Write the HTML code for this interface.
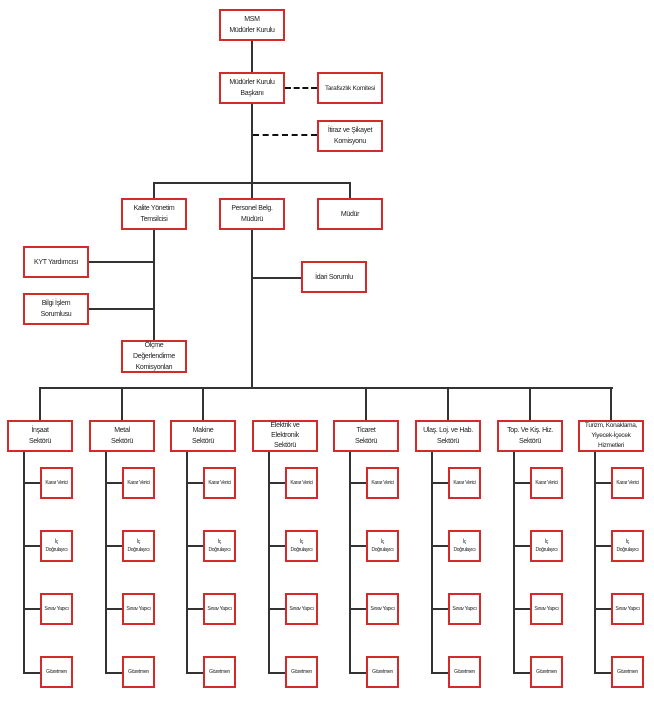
<!DOCTYPE html><html><head><meta charset="utf-8"><style>
body{margin:0;width:654px;height:712px;background:#fff;position:relative;overflow:hidden;font-family:"Liberation Sans",sans-serif;color:#222}
.b{position:absolute;box-sizing:border-box;border:2px solid #d42a2a;background:#fff;display:flex;align-items:center;justify-content:center;text-align:center;font-size:7px;line-height:11px;letter-spacing:-0.3px;white-space:nowrap;overflow:visible}
.s{font-size:5px;line-height:8px;letter-spacing:-0.3px}
.l{position:absolute;background:#333}
.d{position:absolute;height:0;border-top:2px dashed #111}
</style></head><body>
<div class="l" style="left:251px;top:40px;width:2px;height:349px"></div>
<div class="d" style="left:285px;top:87px;width:32px"></div>
<div class="d" style="left:253px;top:134px;width:64px"></div>
<div class="l" style="left:153px;top:182px;width:198px;height:2px"></div>
<div class="l" style="left:153px;top:182px;width:2px;height:158px"></div>
<div class="l" style="left:349px;top:182px;width:2px;height:16px"></div>
<div class="l" style="left:88px;top:261px;width:66px;height:2px"></div>
<div class="l" style="left:88px;top:308px;width:66px;height:2px"></div>
<div class="l" style="left:252px;top:277px;width:49px;height:2px"></div>
<div class="l" style="left:39px;top:387px;width:574px;height:2px"></div>

<div class="b" style="left:219px;top:9px;width:66px;height:32px">MSM<br>Müdürler Kurulu</div>
<div class="b" style="left:219px;top:72px;width:66px;height:32px">Müdürler Kurulu<br>Başkanı</div>
<div class="b" style="left:317px;top:72px;width:66px;height:32px;font-size:6.5px">Tarafsızlık Komitesi</div>
<div class="b" style="left:317px;top:120px;width:66px;height:32px">İtiraz ve Şikayet<br>Komisyonu</div>
<div class="b" style="left:121px;top:198px;width:66px;height:32px">Kalite Yönetim<br>Temsilcisi</div>
<div class="b" style="left:219px;top:198px;width:66px;height:32px">Personel Belg.<br>Müdürü</div>
<div class="b" style="left:317px;top:198px;width:66px;height:32px">Müdür</div>
<div class="b" style="left:23px;top:246px;width:66px;height:32px">KYT Yardımcısı</div>
<div class="b" style="left:23px;top:293px;width:66px;height:32px">Bilgi İşlem<br>Sorumlusu</div>
<div class="b" style="left:121px;top:340px;width:66px;height:33px">Ölçme<br>Değerlendirme<br>Komisyonları</div>
<div class="b" style="left:301px;top:261px;width:66px;height:32px">İdari Sorumlu</div>

<div class="l" style="left:39px;top:388px;width:2px;height:32px"></div><div class="l" style="left:23px;top:452px;width:2px;height:222px"></div>
<div class="l" style="left:23px;top:482px;width:17px;height:2px"></div><div class="l" style="left:23px;top:545px;width:17px;height:2px"></div><div class="l" style="left:23px;top:608px;width:17px;height:2px"></div><div class="l" style="left:23px;top:672px;width:17px;height:2px"></div>
<div class="b" style="left:7px;top:420px;width:66px;height:32px">İnşaat<br>Sektörü</div>
<div class="b s" style="left:40px;top:467px;width:33px;height:32px">Karar Verici</div><div class="b s" style="left:40px;top:530px;width:33px;height:32px">İç<br>Doğrulayıcı</div><div class="b s" style="left:40px;top:593px;width:33px;height:32px">Sınav Yapıcı</div><div class="b s" style="left:40px;top:656px;width:33px;height:32px">Gözetmen</div>

<div class="l" style="left:121px;top:388px;width:2px;height:32px"></div><div class="l" style="left:105px;top:452px;width:2px;height:222px"></div>
<div class="l" style="left:105px;top:482px;width:17px;height:2px"></div><div class="l" style="left:105px;top:545px;width:17px;height:2px"></div><div class="l" style="left:105px;top:608px;width:17px;height:2px"></div><div class="l" style="left:105px;top:672px;width:17px;height:2px"></div>
<div class="b" style="left:89px;top:420px;width:66px;height:32px">Metal<br>Sektörü</div>
<div class="b s" style="left:122px;top:467px;width:33px;height:32px">Karar Verici</div><div class="b s" style="left:122px;top:530px;width:33px;height:32px">İç<br>Doğrulayıcı</div><div class="b s" style="left:122px;top:593px;width:33px;height:32px">Sınav Yapıcı</div><div class="b s" style="left:122px;top:656px;width:33px;height:32px">Gözetmen</div>

<div class="l" style="left:202px;top:388px;width:2px;height:32px"></div><div class="l" style="left:186px;top:452px;width:2px;height:222px"></div>
<div class="l" style="left:186px;top:482px;width:17px;height:2px"></div><div class="l" style="left:186px;top:545px;width:17px;height:2px"></div><div class="l" style="left:186px;top:608px;width:17px;height:2px"></div><div class="l" style="left:186px;top:672px;width:17px;height:2px"></div>
<div class="b" style="left:170px;top:420px;width:66px;height:32px">Makine<br>Sektörü</div>
<div class="b s" style="left:203px;top:467px;width:33px;height:32px">Karar Verici</div><div class="b s" style="left:203px;top:530px;width:33px;height:32px">İç<br>Doğrulayıcı</div><div class="b s" style="left:203px;top:593px;width:33px;height:32px">Sınav Yapıcı</div><div class="b s" style="left:203px;top:656px;width:33px;height:32px">Gözetmen</div>

<div class="l" style="left:268px;top:452px;width:2px;height:222px"></div>
<div class="l" style="left:268px;top:482px;width:17px;height:2px"></div><div class="l" style="left:268px;top:545px;width:17px;height:2px"></div><div class="l" style="left:268px;top:608px;width:17px;height:2px"></div><div class="l" style="left:268px;top:672px;width:17px;height:2px"></div>
<div class="b" style="left:252px;top:420px;width:66px;height:32px;line-height:10px">Elektrik ve<br>Elektronik<br>Sektörü</div>
<div class="b s" style="left:285px;top:467px;width:33px;height:32px">Karar Verici</div><div class="b s" style="left:285px;top:530px;width:33px;height:32px">İç<br>Doğrulayıcı</div><div class="b s" style="left:285px;top:593px;width:33px;height:32px">Sınav Yapıcı</div><div class="b s" style="left:285px;top:656px;width:33px;height:32px">Gözetmen</div>

<div class="l" style="left:365px;top:388px;width:2px;height:32px"></div><div class="l" style="left:349px;top:452px;width:2px;height:222px"></div>
<div class="l" style="left:349px;top:482px;width:17px;height:2px"></div><div class="l" style="left:349px;top:545px;width:17px;height:2px"></div><div class="l" style="left:349px;top:608px;width:17px;height:2px"></div><div class="l" style="left:349px;top:672px;width:17px;height:2px"></div>
<div class="b" style="left:333px;top:420px;width:66px;height:32px">Ticaret<br>Sektörü</div>
<div class="b s" style="left:366px;top:467px;width:33px;height:32px">Karar Verici</div><div class="b s" style="left:366px;top:530px;width:33px;height:32px">İç<br>Doğrulayıcı</div><div class="b s" style="left:366px;top:593px;width:33px;height:32px">Sınav Yapıcı</div><div class="b s" style="left:366px;top:656px;width:33px;height:32px">Gözetmen</div>

<div class="l" style="left:447px;top:388px;width:2px;height:32px"></div><div class="l" style="left:431px;top:452px;width:2px;height:222px"></div>
<div class="l" style="left:431px;top:482px;width:17px;height:2px"></div><div class="l" style="left:431px;top:545px;width:17px;height:2px"></div><div class="l" style="left:431px;top:608px;width:17px;height:2px"></div><div class="l" style="left:431px;top:672px;width:17px;height:2px"></div>
<div class="b" style="left:415px;top:420px;width:66px;height:32px">Ulaş. Loj. ve Hab.<br>Sektörü</div>
<div class="b s" style="left:448px;top:467px;width:33px;height:32px">Karar Verici</div><div class="b s" style="left:448px;top:530px;width:33px;height:32px">İç<br>Doğrulayıcı</div><div class="b s" style="left:448px;top:593px;width:33px;height:32px">Sınav Yapıcı</div><div class="b s" style="left:448px;top:656px;width:33px;height:32px">Gözetmen</div>

<div class="l" style="left:529px;top:388px;width:2px;height:32px"></div><div class="l" style="left:513px;top:452px;width:2px;height:222px"></div>
<div class="l" style="left:513px;top:482px;width:17px;height:2px"></div><div class="l" style="left:513px;top:545px;width:17px;height:2px"></div><div class="l" style="left:513px;top:608px;width:17px;height:2px"></div><div class="l" style="left:513px;top:672px;width:17px;height:2px"></div>
<div class="b" style="left:497px;top:420px;width:66px;height:32px">Top. Ve Kiş. Hiz.<br>Sektörü</div>
<div class="b s" style="left:530px;top:467px;width:33px;height:32px">Karar Verici</div><div class="b s" style="left:530px;top:530px;width:33px;height:32px">İç<br>Doğrulayıcı</div><div class="b s" style="left:530px;top:593px;width:33px;height:32px">Sınav Yapıcı</div><div class="b s" style="left:530px;top:656px;width:33px;height:32px">Gözetmen</div>

<div class="l" style="left:610px;top:388px;width:2px;height:32px"></div><div class="l" style="left:594px;top:452px;width:2px;height:222px"></div>
<div class="l" style="left:594px;top:482px;width:17px;height:2px"></div><div class="l" style="left:594px;top:545px;width:17px;height:2px"></div><div class="l" style="left:594px;top:608px;width:17px;height:2px"></div><div class="l" style="left:594px;top:672px;width:17px;height:2px"></div>
<div class="b" style="left:578px;top:420px;width:66px;height:32px;font-size:6.5px;line-height:10px">Turizm, Konaklama,<br>Yiyecek-İçecek<br>Hizmetleri</div>
<div class="b s" style="left:611px;top:467px;width:33px;height:32px">Karar Verici</div><div class="b s" style="left:611px;top:530px;width:33px;height:32px">İç<br>Doğrulayıcı</div><div class="b s" style="left:611px;top:593px;width:33px;height:32px">Sınav Yapıcı</div><div class="b s" style="left:611px;top:656px;width:33px;height:32px">Gözetmen</div>
</body></html>
